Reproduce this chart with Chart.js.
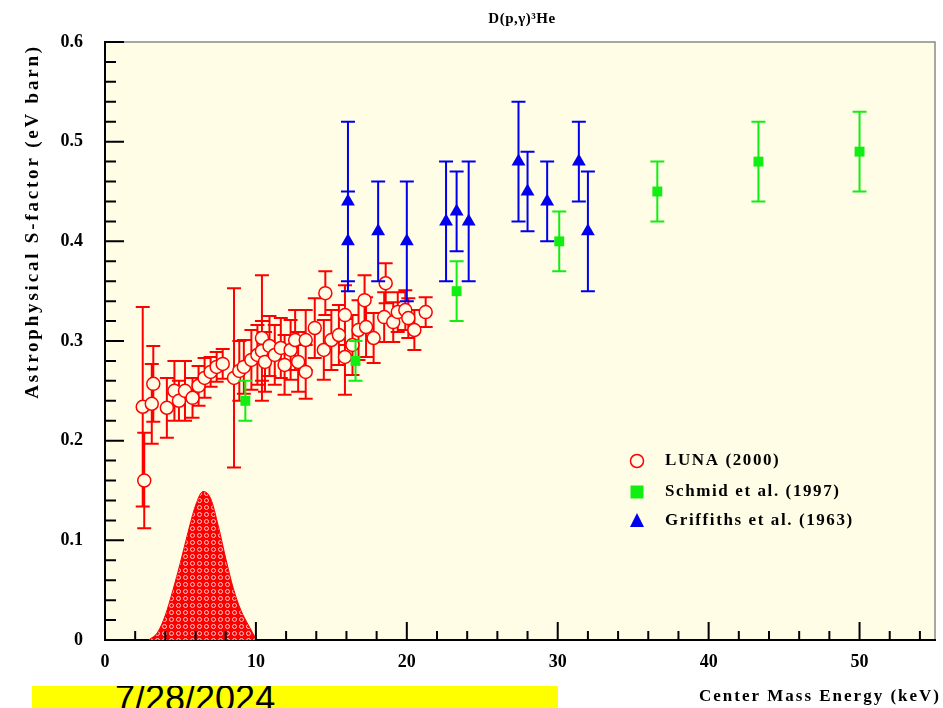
<!DOCTYPE html>
<html>
<head>
<meta charset="utf-8">
<title>D(p,γ)3He astrophysical S-factor</title>
<script src="https://cdn.jsdelivr.net/npm/chart.js@4.4.1/dist/chart.umd.min.js"></script>
<style>
  html, body { margin: 0; padding: 0; background: #fff; }
  #wrap { position: relative; width: 943px; height: 708px; overflow: hidden; }
  #dateBox {
    position: absolute; left: 32px; top: 686px; width: 526px; height: 30px;
    background: #ffff00; overflow: hidden;
    font-family: 'Liberation Sans', Arial, sans-serif; font-size: 36px; line-height: 36px;
  }
  #dateBox span { position: absolute; left: 83px; top: -5px; }
</style>
</head>
<body>
<div id="wrap">
  <canvas id="sfactorChart" width="943" height="708"></canvas>
  <div id="dateBox"><span>7/28/2024</span></div>
</div>
<script>
// ===========================
// DATA
// ===========================
const lunaE = [2.5, 2.6, 3.1, 3.2, 4.1, 4.6, 4.9, 5.3, 5.8, 6.2, 6.6, 7.0, 7.4, 7.8, 8.55, 8.9,
  9.2, 9.7, 10.1, 10.4, 10.4, 10.6, 10.9, 11.25, 11.65, 11.9, 12.3, 12.6, 12.8, 13.3, 13.3,
  13.9, 14.5, 14.6, 15.0, 15.5, 15.9, 15.9, 16.4, 16.8, 17.2, 17.3, 17.8, 18.5, 18.6, 19.1,
  19.4, 19.9, 20.1, 20.5, 21.25];
const lunaS = [0.234, 0.16, 0.237, 0.257, 0.233, 0.25, 0.24, 0.25, 0.243, 0.255, 0.263, 0.269,
  0.274, 0.277, 0.263, 0.27, 0.274, 0.281, 0.286, 0.303, 0.29, 0.279, 0.295, 0.286, 0.293,
  0.276, 0.291, 0.301, 0.279, 0.269, 0.301, 0.313, 0.291, 0.348, 0.301, 0.306, 0.326, 0.284,
  0.296, 0.311, 0.341, 0.314, 0.303, 0.324, 0.358, 0.319, 0.329, 0.331, 0.323, 0.311, 0.329];
const lunaErr = [0.1, 0.048, 0.04, 0.038, 0.03, 0.03, 0.02, 0.03, 0.02, 0.02, 0.02, 0.015,
  0.015, 0.015, 0.09, 0.03, 0.027, 0.03, 0.03, 0.063, 0.03, 0.03, 0.03, 0.03, 0.03,
  0.03, 0.03, 0.03, 0.03, 0.027, 0.03, 0.03, 0.03, 0.022, 0.03, 0.03, 0.03, 0.038,
  0.03, 0.03, 0.025, 0.03, 0.025, 0.025, 0.02, 0.02, 0.02, 0.02, 0.02, 0.02, 0.015];

const schmidE = [9.3, 16.6, 23.3, 30.1, 36.6, 43.3, 50.0];
const schmidS = [0.24, 0.28, 0.35, 0.40, 0.45, 0.48, 0.49];
const schmidErr = [0.02, 0.02, 0.03, 0.03, 0.03, 0.04, 0.04];

const griffE = [16.1, 16.1, 18.1, 20.0, 22.6, 23.3, 24.1, 27.4, 28.0, 29.3, 31.4, 32.0];
const griffS = [0.44, 0.40, 0.41, 0.40, 0.42, 0.43, 0.42, 0.48, 0.45, 0.44, 0.48, 0.41];
const griffErr = [0.08, 0.05, 0.05, 0.06, 0.06, 0.04, 0.06, 0.06, 0.04, 0.04, 0.04, 0.06];

// Gamow peak (arbitrary units, drawn on the S-factor axis)
const gamowE = [2.9, 3.5, 4.0, 4.5, 5.0, 5.5, 6.0, 6.5, 7.0, 7.5, 8.0, 8.5, 9.0, 9.5, 10.05];
const gamowY = [0.0, 0.008, 0.025, 0.05, 0.078, 0.108, 0.135, 0.149, 0.142, 0.115, 0.082,
  0.052, 0.03, 0.015, 0.0];

const xTickLabels = ['0', '10', '20', '30', '40', '50'];
const yTickLabels = ['0', '0.1', '0.2', '0.3', '0.4', '0.5', '0.6'];

const seriesLabels = ['LUNA (2000)', 'Schmid et al. (1997)', 'Griffiths et al. (1963)'];

const toPoints = (xs, ys) => xs.map((v, i) => ({ x: v, y: ys[i] }));

// ===========================
// STYLE
// ===========================
const SERIF = "'Liberation Serif', 'Times New Roman', serif";
const PLOT_BG = '#fffde6';
const RED = '#ff0000';
const GREEN = '#11ee11';
const BLUE = '#0000ee';

// checkered fill for the Gamow peak
const patCanvas = document.createElement('canvas');
patCanvas.width = 7; patCanvas.height = 7;
const pctx = patCanvas.getContext('2d');
pctx.fillStyle = RED;
pctx.fillRect(0, 0, 7, 7);
pctx.strokeStyle = '#ffc8c8';
pctx.lineWidth = 1;
pctx.beginPath();
pctx.arc(3.5, 3.5, 2, 0, Math.PI * 2);
pctx.stroke();
const gamowPattern = pctx.createPattern(patCanvas, 'repeat');

// ===========================
// PLUGINS
// ===========================
const plotFrame = {
  id: 'plotFrame',
  beforeDraw(chart) {
    const { ctx, chartArea: a } = chart;
    ctx.save();
    ctx.fillStyle = PLOT_BG;
    ctx.fillRect(a.left, a.top, a.right - a.left, a.bottom - a.top);
    ctx.strokeStyle = '#8a8a8a';
    ctx.lineWidth = 1.5;
    ctx.beginPath();
    ctx.moveTo(a.left, a.top);
    ctx.lineTo(a.right, a.top);
    ctx.lineTo(a.right, a.bottom);
    ctx.stroke();
    ctx.restore();
  },
  afterDraw(chart) {
    const { ctx, chartArea: a, scales: { x, y } } = chart;
    ctx.save();
    ctx.strokeStyle = '#000';
    ctx.lineWidth = 2;
    ctx.beginPath();
    // inward tick marks, minor every 2 keV / 0.02
    for (let i = 0; i <= 27; i++) {
      const px = x.getPixelForValue(i * 2);
      const len = i % 5 === 0 ? 18 : 9;
      ctx.moveTo(px, a.bottom);
      ctx.lineTo(px, a.bottom - len);
    }
    for (let j = 0; j <= 30; j++) {
      const py = y.getPixelForValue(j * 0.02);
      const len = j % 5 === 0 ? 19 : 11;
      ctx.moveTo(a.left, py);
      ctx.lineTo(a.left + len, py);
    }
    ctx.stroke();

    // titles
    ctx.fillStyle = '#000';
    ctx.font = `bold 15px ${SERIF}`;
    ctx.letterSpacing = '0.5px';
    ctx.textAlign = 'center';
    ctx.textBaseline = 'middle';
    ctx.fillText('D(p,γ)³He', 522, 19);

    ctx.font = `bold 17px ${SERIF}`;
    ctx.letterSpacing = '2px';
    ctx.textAlign = 'right';
    ctx.fillText('Center Mass Energy (keV)', 941, 697);

    ctx.save();
    ctx.translate(33, 44);
    ctx.rotate(-Math.PI / 2);
    ctx.font = `bold 19px ${SERIF}`;
    ctx.letterSpacing = '2.8px';
    ctx.textAlign = 'right';
    ctx.fillText('Astrophysical S-factor (eV barn)', 0, 0);
    ctx.restore();

    // legend
    const rows = [461, 492, 521];
    const lx = 637;
    ctx.font = `bold 17px ${SERIF}`;
    ctx.letterSpacing = '1.6px';
    ctx.textAlign = 'left';
    ctx.strokeStyle = RED;
    ctx.lineWidth = 1.5;
    ctx.beginPath();
    ctx.arc(lx, rows[0], 6.5, 0, Math.PI * 2);
    ctx.stroke();
    ctx.fillStyle = GREEN;
    ctx.fillRect(lx - 6.5, rows[1] - 6.5, 13, 13);
    ctx.fillStyle = BLUE;
    ctx.beginPath();
    ctx.moveTo(lx, rows[2] - 8);
    ctx.lineTo(lx + 7, rows[2] + 6);
    ctx.lineTo(lx - 7, rows[2] + 6);
    ctx.closePath();
    ctx.fill();
    ctx.fillStyle = '#000';
    seriesLabels.forEach((t, i) => ctx.fillText(t, 665, rows[i]));
    ctx.restore();
  }
};

const errorBars = {
  id: 'errorBars',
  beforeDatasetDraw(chart, args) {
    const ds = chart.data.datasets[args.index];
    if (!ds.errors) return;
    const { ctx, scales: { x, y } } = chart;
    ctx.save();
    ctx.strokeStyle = ds.errColor;
    ctx.lineWidth = 2;
    ctx.beginPath();
    ds.data.forEach((p, i) => {
      const px = x.getPixelForValue(p.x);
      const top = y.getPixelForValue(p.y + ds.errors[i]);
      const bot = y.getPixelForValue(p.y - ds.errors[i]);
      ctx.moveTo(px, top); ctx.lineTo(px, bot);
      ctx.moveTo(px - 7, top); ctx.lineTo(px + 7, top);
      ctx.moveTo(px - 7, bot); ctx.lineTo(px + 7, bot);
    });
    ctx.stroke();
    ctx.restore();
  }
};

// ===========================
// CHART
// ===========================
const ctx = document.getElementById('sfactorChart').getContext('2d');

new Chart(ctx, {
  type: 'scatter',
  data: {
    datasets: [{
      label: 'Gamow peak',
      type: 'line',
      data: toPoints(gamowE, gamowY),
      borderColor: RED,
      borderWidth: 1,
      backgroundColor: gamowPattern,
      fill: 'origin',
      pointRadius: 0,
      cubicInterpolationMode: 'monotone',
      order: 4
    }, {
      label: seriesLabels[0],
      data: toPoints(lunaE, lunaS),
      errors: lunaErr,
      errColor: RED,
      pointStyle: 'circle',
      pointRadius: 6.5,
      borderWidth: 1.5,
      borderColor: RED,
      backgroundColor: PLOT_BG,
      order: 3
    }, {
      label: seriesLabels[1],
      data: toPoints(schmidE, schmidS),
      errors: schmidErr,
      errColor: GREEN,
      pointStyle: 'rect',
      pointRadius: 7,
      borderWidth: 0,
      backgroundColor: GREEN,
      order: 2
    }, {
      label: seriesLabels[2],
      data: toPoints(griffE, griffS),
      errors: griffErr,
      errColor: BLUE,
      pointStyle: 'triangle',
      pointRadius: 8,
      borderWidth: 0,
      backgroundColor: BLUE,
      order: 1
    }]
  },
  options: {
    responsive: false,
    animation: false,
    layout: { padding: { top: 42, right: 0, left: 0, bottom: 0 } },
    scales: {
      x: {
        type: 'linear',
        min: 0,
        max: 55,
        afterFit: s => { s.height = 68; },
        grid: { display: false },
        border: { display: true, color: '#000', width: 2 },
        ticks: {
          stepSize: 10,
          includeBounds: false,
          maxRotation: 0,
          padding: 4,
          color: '#000',
          font: { family: SERIF, weight: 'bold', size: 18 },
          callback: v => xTickLabels[v / 10] ?? ''
        }
      },
      y: {
        type: 'linear',
        min: 0,
        max: 0.6,
        afterFit: s => { s.width = 105; },
        grid: { display: false },
        border: { display: true, color: '#000', width: 2 },
        ticks: {
          stepSize: 0.1,
          padding: 14,
          color: '#000',
          font: { family: SERIF, weight: 'bold', size: 18 },
          callback: v => yTickLabels[Math.round(v * 10)] ?? ''
        }
      }
    },
    plugins: {
      legend: { display: false },
      tooltip: { enabled: false }
    }
  },
  plugins: [plotFrame, errorBars]
});
</script>
</body>
</html>
